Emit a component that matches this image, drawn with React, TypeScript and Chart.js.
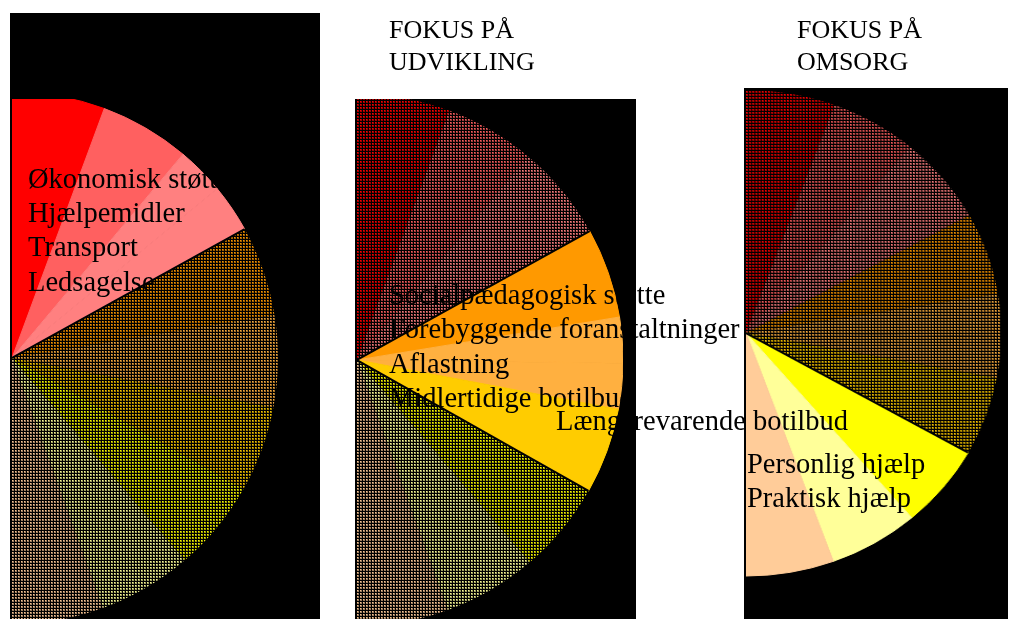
import React, { useEffect, useRef } from "react";
import { Chart, registerables } from "chart.js";

Chart.register(...registerables);

// ---- data ----
const categories = [
  "Økonomisk støtte",
  "Hjælpemidler",
  "Transport",
  "Ledsagelse",
  "Socialpædagogisk støtte",
  "Forebyggende foranstaltninger",
  "Aflastning",
  "Midlertidige botilbud",
  "Længerevarende botilbud",
  "Personlig hjælp",
  "Praktisk hjælp",
];
// share of the half circle (degrees of 180)
const sliceValues = [20.3, 19.7, 10.5, 10.5, 19.7, 10, 10, 18.8, 20, 20.5, 20];
// which focus group each category belongs to
const sliceGroups = [0, 0, 0, 0, 1, 1, 1, 1, 2, 2, 2];
const sliceColors = [
  "#FF0000",
  "#FF6060",
  "#FF8080",
  "#FF8080",
  "#FF9900",
  "#FFB040",
  "#FFB040",
  "#FFCC00",
  "#FFFF00",
  "#FFFF99",
  "#FFCC99",
];
const panelTitles = [[], ["FOKUS PÅ", "UDVIKLING"], ["FOKUS PÅ", "OMSORG"]];

// ---- layout (positions only) ----
const panels = [
  { rect: { x: 10, y: 13, w: 310, h: 606 }, clipTop: 99, cx: 12, cy: 358, r: 266, sx: 1 },
  { rect: { x: 355, y: 99, w: 281, h: 520 }, clipTop: 99, cx: 357, cy: 360, r: 266, sx: 1 },
  { rect: { x: 744, y: 88, w: 264, h: 531 }, clipTop: 88, cx: 746, cy: 333, r: 243, sx: 1.05 },
];
const labelPos = [
  { x: 28, y: 188.5 },
  { x: 28, y: 223 },
  { x: 28, y: 257 },
  { x: 28, y: 291.5 },
  { x: 389, y: 304.5 },
  { x: 389, y: 339 },
  { x: 389, y: 373.5 },
  { x: 389, y: 408 },
  { x: 556, y: 431 },
  { x: 747, y: 474 },
  { x: 747, y: 507.5 },
];
const titlePos = [null, { x: 389, y: 39 }, { x: 797, y: 39 }];

const FONT = '"Liberation Serif", "Times New Roman", serif';
const LABEL_SIZE = 28.5;
const TITLE_SIZE = 26;

function dither(color: string): CanvasPattern | string {
  const c = document.createElement("canvas");
  c.width = 3;
  c.height = 3;
  const g = c.getContext("2d");
  if (!g) return color;
  g.fillStyle = "#000";
  g.fillRect(0, 0, 3, 3);
  g.fillStyle = color;
  g.globalAlpha = 0.62;
  g.fillRect(0, 0, 2, 2);
  g.globalAlpha = 0.9;
  g.fillRect(0, 0, 1, 1);
  return g.createPattern(c, "repeat") || color;
}

const groupEdges = {
  id: "groupEdges",
  afterDatasetsDraw(chart: any, _args: any, opts: any) {
    const meta = chart.getDatasetMeta(0);
    const idx = sliceGroups.map((g, i) => (g === opts.highlight ? i : -1)).filter((i) => i >= 0);
    if (!idx.length) return;
    const first = meta.data[idx[0]];
    const last = meta.data[idx[idx.length - 1]];
    const ctx = chart.ctx;
    ctx.save();
    ctx.strokeStyle = "#000";
    ctx.lineWidth = 2;
    const edges: [any, number][] = [
      [first, first.startAngle],
      [last, last.endAngle],
    ];
    for (const [el, ang] of edges) {
      if (Math.abs(Math.cos(ang)) < 1e-3) continue;
      const { x, y, outerRadius } = el.getProps(["x", "y", "outerRadius"], true);
      ctx.beginPath();
      ctx.moveTo(x, y);
      ctx.lineTo(x + Math.cos(ang) * outerRadius, y + Math.sin(ang) * outerRadius);
      ctx.stroke();
    }
    ctx.restore();
  },
};

function PiePanel({ index }: { index: number }) {
  const ref = useRef<HTMLCanvasElement>(null);
  const p = panels[index];
  const W = p.r;
  const H = 2 * p.r + 4;
  useEffect(() => {
    if (!ref.current) return;
    const on = sliceGroups.map((g) => g === index);
    const bg = sliceColors.map((c, i) => (on[i] ? c : dither(c)));
    const bc = sliceColors.map((c, i) => (on[i] ? c : "#000000"));
    const bw = sliceColors.map((_, i) => (on[i] ? 1 : 0));
    const chart = new Chart(ref.current, {
      type: "pie",
      data: {
        labels: categories,
        datasets: [
          {
            data: sliceValues,
            backgroundColor: bg as any,
            borderColor: bc,
            borderWidth: bw,
            hoverBorderWidth: 0,
            hoverOffset: 0,
            rotation: 0,
            circumference: 180,
          } as any,
        ],
      },
      options: {
        responsive: false,
        animation: false,
        rotation: 0,
        circumference: 180,
        radius: p.r,
        events: [],
        layout: { padding: 0 },
        plugins: {
          legend: { display: false },
          tooltip: { enabled: false },
          groupEdges: { highlight: index },
        },
      } as any,
      plugins: [groupEdges as any],
    });
    return () => chart.destroy();
  }, [index]);

  const rect = p.rect;
  return (
    <div
      style={{
        position: "absolute",
        left: rect.x,
        top: rect.y,
        width: rect.w,
        height: rect.h,
        background: "#000",
        overflow: "hidden",
      }}
    >
      <div
        style={{
          position: "absolute",
          left: 0,
          right: 0,
          top: p.clipTop - rect.y,
          bottom: 0,
          overflow: "hidden",
        }}
      >
        <canvas
          ref={ref}
          width={W}
          height={H}
          style={{
            position: "absolute",
            left: p.cx - rect.x,
            top: p.cy - (p.r + 2) - p.clipTop,
            width: W,
            height: H,
            transform: `scaleX(${p.sx})`,
            transformOrigin: "0px 50%",
          }}
        />
      </div>
    </div>
  );
}

function TextAt({ x, y, size, text }: { x: number; y: number; size: number; text: string }) {
  return (
    <div
      style={{
        position: "absolute",
        left: x,
        top: y - 0.8375 * size,
        fontFamily: FONT,
        fontSize: size,
        lineHeight: `${size}px`,
        color: "#000",
        whiteSpace: "nowrap",
      }}
    >
      {text}
    </div>
  );
}

export default function App() {
  return (
    <div
      style={{
        position: "absolute",
        left: 0,
        top: 0,
        width: 1021,
        height: 619,
        background: "#fff",
        overflow: "hidden",
      }}
    >
      {panels.map((_, i) => (
        <PiePanel key={i} index={i} />
      ))}
      <div style={{ position: "absolute", left: 0, top: 0, width: 1021, height: 619, zIndex: 2 }}>
        {categories.map((c, i) => (
          <TextAt key={c} x={labelPos[i].x} y={labelPos[i].y} size={LABEL_SIZE} text={c} />
        ))}
        {panelTitles.map((lines, i) =>
          lines.map((t, j) => (
            <TextAt
              key={`${i}-${j}`}
              x={(titlePos[i] as any).x}
              y={(titlePos[i] as any).y + j * 32}
              size={TITLE_SIZE}
              text={t}
            />
          ))
        )}
      </div>
    </div>
  );
}
